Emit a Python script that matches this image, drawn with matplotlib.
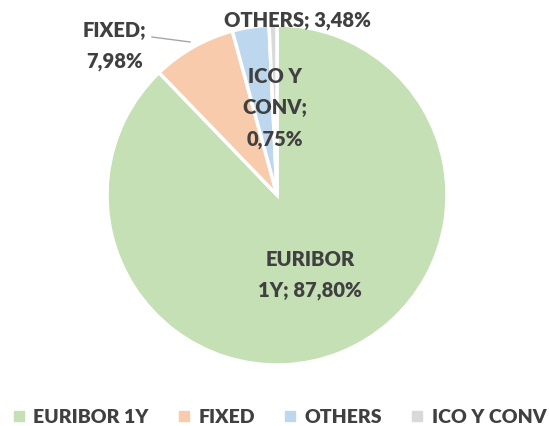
import matplotlib.pyplot as plt
from matplotlib.lines import Line2D

# datos
categorias = ["EURIBOR 1Y", "FIXED", "OTHERS", "ICO Y CONV"]
valores = [87.80, 7.98, 3.48, 0.75]
colores = ["#C5E0B4", "#F8CBAD", "#BDD7EE", "#D9D9D9"]
etiquetas = ["EURIBOR\n1Y; 87,80%", "FIXED;\n7,98%", "OTHERS; 3,48%", "ICO Y\nCONV;\n0,75%"]

gris = "#404040"
plt.rcParams["font.family"] = ["Lato", "DejaVu Sans"]

fig = plt.figure(figsize=(5.49, 4.26), dpi=100)
ax = fig.add_axes([0, 0, 1, 1])

ax.pie(valores, colors=colores, startangle=90, counterclock=False,
       center=(277, 231), radius=170,
       wedgeprops=dict(edgecolor="white", linewidth=2.5))

# pie() cambia los límites, se fijan después
ax.set_xlim(0, 549)
ax.set_ylim(0, 426)
ax.set_aspect("equal")
ax.axis("off")

# etiquetas de datos
pos = [(310, 151), (115, 380), (297, 405), (275, 318)]
for txt, (x, y) in zip(etiquetas, pos):
    ax.text(x, y, txt, ha="center", va="center", fontsize=14.5,
            fontweight="heavy", color=gris, linespacing=1.75)

# línea guía de FIXED
ax.plot([152, 190], [389, 384], color="#A6A6A6", lw=1)

handles = [Line2D([], [], marker="s", ls="", markersize=7, color=c) for c in colores]
fig.legend(handles, categorias, loc="lower center", bbox_to_anchor=(0.51, -0.04),
           ncol=4, frameon=False, handlelength=0.5, handletextpad=0.5,
           columnspacing=1.55, prop=dict(size=14, weight="heavy"), labelcolor=gris)

fig.savefig("out.png", dpi=100)
